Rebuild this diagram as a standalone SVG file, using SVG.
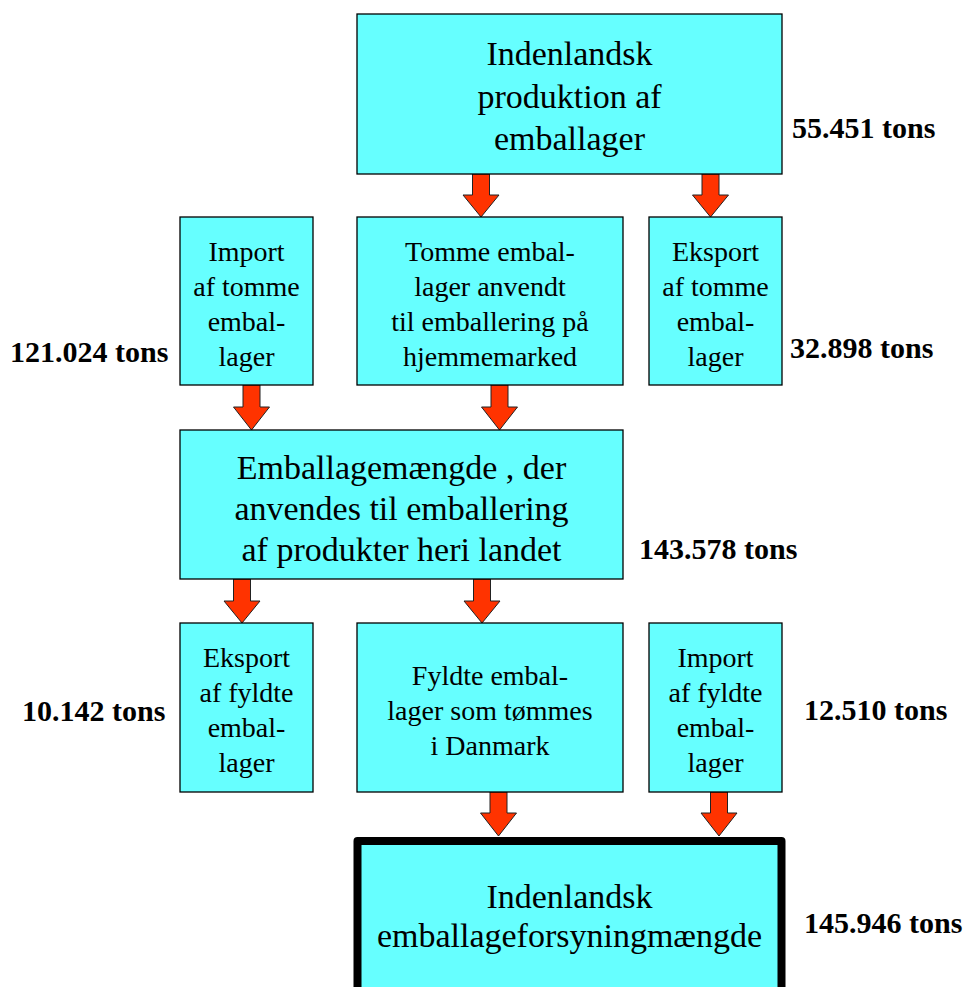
<svg xmlns="http://www.w3.org/2000/svg" width="968" height="987" viewBox="0 0 968 987">
<style>
.box{fill:#66FFFF;stroke:#000;stroke-width:1.3}
.big{fill:#66FFFF;stroke:#000;stroke-width:8;stroke-linejoin:round}
.t{font-family:"Times New Roman","Liberation Serif","DejaVu Serif",serif;fill:#000;text-anchor:middle}
.t34{font-size:34px}
.t28{font-size:28px}
.lbl{font-family:"Times New Roman","Liberation Serif","DejaVu Serif",serif;font-weight:bold;font-size:30px;fill:#000}
.arr{fill:#FF3300;stroke:#222;stroke-width:1}
</style>
<rect width="968" height="987" fill="#fff"/>
<g id="connectors">
<path class="arr" d="M472.5,174 H489.5 V195 H499 L481,217 L463,195 H472.5 Z"/>
<path class="arr" d="M702,174 H719 V195 H728.5 L710.5,217 L692.5,195 H702 Z"/>
<path class="arr" d="M243,385 H260 V407 H269.5 L251.5,430 L233.5,407 H243 Z"/>
<path class="arr" d="M491,385 H508 V407 H517.5 L499.5,430 L481.5,407 H491 Z"/>
<path class="arr" d="M233.5,579 H250.5 V601 H260 L242,623 L224,601 H233.5 Z"/>
<path class="arr" d="M473.5,579 H490.5 V601 H500 L482,623 L464,601 H473.5 Z"/>
<path class="arr" d="M490,792 H507 V813 H516.5 L498.5,836 L480.5,813 H490 Z"/>
<path class="arr" d="M710.5,792 H727.5 V813 H737 L719,836 L701,813 H710.5 Z"/>
</g>
<g id="n-prod">
<rect class="box" x="357" y="14" width="425" height="160"/>
<text class="t t34" x="569.5" y="65">Indenlandsk</text>
<text class="t t34" x="569.5" y="108">produktion af</text>
<text class="t t34" x="569.5" y="150">emballager</text>
</g>
<g id="n-import-tomme">
<rect class="box" x="180" y="217" width="133" height="168"/>
<text class="t t28" x="246.5" y="261">Import</text>
<text class="t t28" x="246.5" y="296">af tomme</text>
<text class="t t28" x="246.5" y="331">embal-</text>
<text class="t t28" x="246.5" y="366">lager</text>
</g>
<g id="n-tomme">
<rect class="box" x="357" y="217" width="266" height="168"/>
<text class="t t28" x="490" y="261">Tomme embal-</text>
<text class="t t28" x="490" y="296">lager anvendt</text>
<text class="t t28" x="490" y="331">til emballering på</text>
<text class="t t28" x="490" y="366">hjemmemarked</text>
</g>
<g id="n-eksport-tomme">
<rect class="box" x="649" y="217" width="133" height="168"/>
<text class="t t28" x="715.5" y="261">Eksport</text>
<text class="t t28" x="715.5" y="296">af tomme</text>
<text class="t t28" x="715.5" y="331">embal-</text>
<text class="t t28" x="715.5" y="366">lager</text>
</g>
<g id="n-mengde">
<rect class="box" x="180" y="430" width="443" height="149"/>
<text class="t t34" x="401.5" y="479">Emballagemængde , der</text>
<text class="t t34" x="401.5" y="520">anvendes til emballering</text>
<text class="t t34" x="401.5" y="561">af produkter heri landet</text>
</g>
<g id="n-eksport-fyldte">
<rect class="box" x="180" y="623" width="133" height="169"/>
<text class="t t28" x="246.5" y="667">Eksport</text>
<text class="t t28" x="246.5" y="702">af fyldte</text>
<text class="t t28" x="246.5" y="737">embal-</text>
<text class="t t28" x="246.5" y="772">lager</text>
</g>
<g id="n-fyldte">
<rect class="box" x="357" y="623" width="266" height="169"/>
<text class="t t28" x="490" y="685">Fyldte embal-</text>
<text class="t t28" x="490" y="720">lager som tømmes</text>
<text class="t t28" x="490" y="755">i Danmark</text>
</g>
<g id="n-import-fyldte">
<rect class="box" x="649" y="623" width="133" height="169"/>
<text class="t t28" x="715.5" y="667">Import</text>
<text class="t t28" x="715.5" y="702">af fyldte</text>
<text class="t t28" x="715.5" y="737">embal-</text>
<text class="t t28" x="715.5" y="772">lager</text>
</g>
<g id="n-forsyning">
<rect class="big" x="357.5" y="841" width="424" height="170"/>
<text class="t t34" x="569.5" y="908">Indenlandsk</text>
<text class="t t34" x="569.5" y="947">emballageforsyningmængde</text>
</g>
<g id="labels">
<text class="lbl" x="792" y="138">55.451 tons</text>
<text class="lbl" x="10" y="362">121.024 tons</text>
<text class="lbl" x="790" y="358">32.898 tons</text>
<text class="lbl" x="639" y="559">143.578 tons</text>
<text class="lbl" x="22" y="721">10.142 tons</text>
<text class="lbl" x="804" y="720">12.510 tons</text>
<text class="lbl" x="804" y="933">145.946 tons</text>
</g>
</svg>
